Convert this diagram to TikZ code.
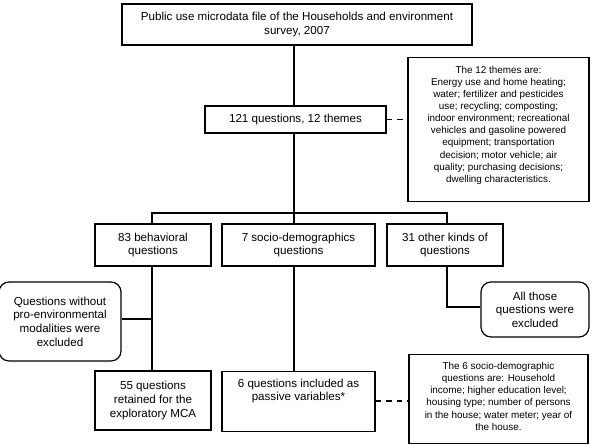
\documentclass[tikz,border=0pt]{standalone}
\usepackage{fontspec}
\setmainfont{Liberation Sans}
\begin{document}
\begin{tikzpicture}[x=1pt,y=-1pt,
  box/.style={draw, line width=1.2pt, align=center, inner sep=0pt,
    font=\fontsize{11.6}{13.6}\selectfont},
  frame/.style={draw, line width=1.2pt, inner sep=0pt},
  txt/.style={align=center, inner sep=0pt, anchor=north},
  rbox/.style={box, rounded corners=10pt},
  link/.style={line width=1.2pt},
  dlink/.style={line width=1.2pt, dash pattern=on 5.5pt off 5pt}]
\useasboundingbox (0,0) rectangle (593,444);
\coordinate (cx) at (294,0);
\coordinate (lx) at (152,0);
\coordinate (rx) at (447,0);
\coordinate (br) at (0,213);
\node[box, minimum width=350, minimum height=41] (top) at (297,24.5)
  {Public use microdata file of the Households and environment\\survey, 2007};
\node[box, minimum width=181, minimum height=27] (q121) at (295.5,119.5)
  {121 questions, 12 themes};
\node[frame, minimum width=181, minimum height=144, anchor=north] (themes) at (498.5,57) {};
\node[txt, font=\fontsize{9.9}{12.1}\selectfont] (themesT) at (498.5,66)
  {The 12 themes are:\\Energy use and home heating;\\water; fertilizer and pesticides\\use; recycling; composting;\\indoor environment; recreational\\vehicles and gasoline powered\\equipment; transportation\\decision; motor vehicle; air\\quality; purchasing decisions;\\dwelling characteristics.};
\node[box, minimum width=116, minimum height=42] (beh) at (153,245)
  {83 behavioral\\questions};
\node[box, minimum width=153, minimum height=42] (soc) at (298.5,245)
  {7 socio-demographics\\questions};
\node[box, minimum width=116, minimum height=42] (oth) at (445,245)
  {31 other kinds of\\questions};
\node[rbox, minimum width=122, minimum height=79] (ex1) at (60,321.5)
  {Questions without\\pro-environmental\\modalities were\\excluded};
\node[rbox, minimum width=108, minimum height=55] (ex2) at (535,309.5)
  {All those\\questions were\\excluded};
\node[box, minimum width=116, minimum height=59] (q55) at (153,400.5)
  {55 questions\\retained for the\\exploratory MCA};
\node[frame, minimum width=153, minimum height=60, anchor=north] (q6) at (298.5,371) {};
\node[txt, font=\fontsize{11.6}{13.6}\selectfont] (q6T) at (298.5,378.5)
  {6 questions included as\\passive variables*};
\node[frame, minimum width=179, minimum height=89, anchor=north] (socq) at (498.5,354) {};
\node[txt, font=\fontsize{9.9}{12.2}\selectfont] (socqT) at (498.5,362)
  {The 6 socio-demographic\\questions are: Household\\income; higher education level;\\housing type; number of persons\\in the house; water meter; year of\\the house.};
% connectors
\draw[link] (top.south -| cx) -- (q121.north -| cx);
\draw[link] (q121.south -| cx) -- (br -| cx);
\draw[link] (beh.north -| lx) -- (br -| lx) -- (br -| rx) -- (oth.north -| rx);
\draw[link] (br -| cx) -- (soc.north -| cx);
\draw[link] (beh.south -| lx) -- (q55.north -| lx);
\draw[link] (ex1.east |- 0,319) -- (lx |- 0,319);
\draw[link] (soc.south -| cx) -- (q6.north -| cx);
\draw[link] (oth.south -| rx) -- (rx |- 0,307) -- (ex2.west |- 0,307);
\draw[dlink] (q121.east) -- (q121.east -| themes.west);
\draw[dlink] (q6.east |- 0,401) -- (socq.west |- 0,401);
\end{tikzpicture}
\end{document}
